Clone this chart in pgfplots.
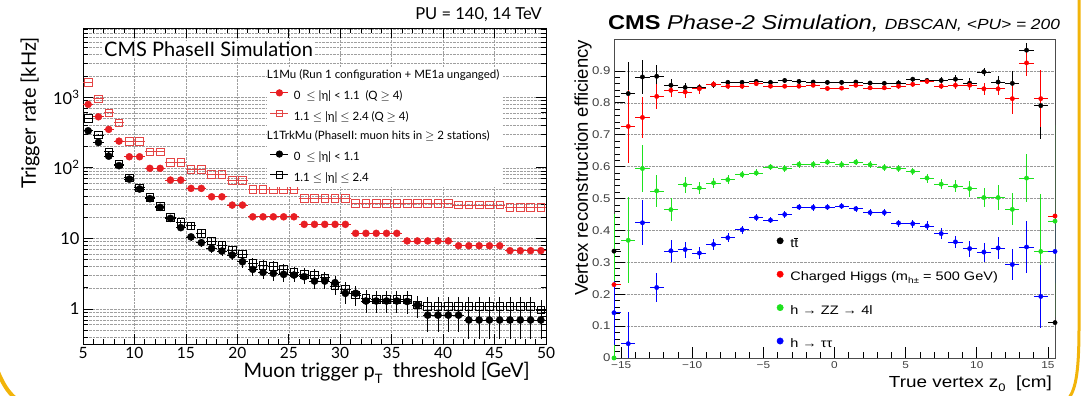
\documentclass[border=0pt]{standalone}
\usepackage{fontspec}
\setmainfont{Lato}
\newfontfamily\arialS[FakeStretch=1.18]{Liberation Sans}
\newfontfamily\arialN{Liberation Sans}
\usepackage{pgfplots}
\pgfplotsset{compat=1.18}
\definecolor{redF}{RGB}{232,30,35}
\definecolor{redO}{RGB}{228,70,70}
\definecolor{grnR}{RGB}{30,225,30}
\definecolor{bluR}{RGB}{0,0,255}
\definecolor{ornB}{RGB}{242,180,10}

\begin{document}
\begin{tikzpicture}
\useasboundingbox (0,0) rectangle (1082bp,396bp);

% ---------------- LEFT PANEL ----------------
\begin{axis}[
  at={(83bp,52bp)}, anchor=south west, scale only axis,
  width=463bp, height=316bp,
  xmin=5, xmax=50, ymode=log, ymin=0.32, ymax=9500,
  xtick={5,10,...,50}, xticklabels={5,10,15,20,25,30,35,40,45,50},
  minor x tick num=4,
  ytick={1,10,100,1000}, yticklabels={1,10,10\textsuperscript{2},10\textsuperscript{3}},
  minor ytick={0.4,0.5,0.6,0.7,0.8,0.9,2,3,4,5,6,7,8,9,20,30,40,50,60,70,80,90,200,300,400,500,600,700,800,900,2000,3000,4000,5000,6000,7000,8000,9000},
  xmajorgrids, ymajorgrids, yminorgrids,
  grid style={densely dotted, gray!75, line width=0.45bp},
  major tick length=10bp, minor tick length=5bp,
  tick style={black, line width=0.6bp},
  axis line style={black, line width=0.9bp},
  xticklabel style={font=\fontsize{15.5bp}{17bp}\selectfont},
  yticklabel style={font=\fontsize{16.5bp}{18bp}\selectfont},
  legend cell align=left,
  legend image code/.code={\draw[mark repeat=2,mark phase=2,#1] plot coordinates {(0bp,3.5bp)(9bp,3.5bp)(18bp,3.5bp)};},
  legend style={at={(axis description cs:0.397,0.877)}, anchor=north west, draw=none, fill=white,
    inner xsep=3bp, inner ysep=3bp, font=\fontsize{11.5bp}{13bp}\selectfont,
    nodes={inner sep=0pt, text height=8.5bp, text depth=2.5bp}, row sep=8.6bp,
    /tikz/every odd column/.append style={column sep=5bp}},
]
\addlegendimage{empty legend}\addlegendentry{\hspace{-27bp}L1Mu (Run 1 configuration + ME1a unganged)}
\addlegendimage{redF, mark=*, mark size=3.2bp, line width=0.8bp}\addlegendentry{0\ \ $\leq$ |η| < 1.1\ \ (Q $\geq$ 4)}
\addlegendimage{redO, mark=square, mark size=3.2bp, line width=0.8bp, mark options={fill=white}}\addlegendentry{1.1 $\leq$ |η| $\leq$ 2.4 (Q $\geq$ 4)}
\addlegendimage{empty legend}\addlegendentry{\hspace{-27bp}L1TrkMu (PhaseII: muon hits in $\geq$ 2 stations)}
\addlegendimage{black, mark=*, mark size=3.2bp, line width=0.8bp}\addlegendentry{0\ \ $\leq$ |η| < 1.1}
\addlegendimage{black, mark=square, mark size=3.2bp, line width=0.8bp, mark options={fill=white}}\addlegendentry{1.1 $\leq$ |η| $\leq$ 2.4}

% red open: L1Mu 1.1-2.4
\addplot[forget plot, only marks, mark=square, mark size=3.8bp, color=redO, mark options={fill=white, line width=0.8bp},
  error bars/x dir=both, error bars/x fixed=0.5, error bars/error mark=none,
  error bars/error bar style={line width=0.8bp}] table[x index=0, y index=1] {
5.5 1600
6.5 946
7.5 600
8.5 433
9.5 238
10.5 238
11.5 168
12.5 168
13.5 119
14.5 119
15.5 95
16.5 95
17.5 80.5
18.5 80.5
19.5 66
20.5 66
21.5 49
22.5 49
23.5 49
24.5 49
25.5 49
26.5 36.8
27.5 36.8
28.5 36.8
29.5 36.8
30.5 36.8
31.5 31.3
32.5 31.3
33.5 31.3
34.5 31.3
35.5 31.3
36.5 31.3
37.5 31.3
38.5 31.3
39.5 31.3
40.5 31.3
41.5 29.6
42.5 29.6
43.5 29.6
44.5 29.6
45.5 29.6
46.5 27.5
47.5 27.5
48.5 27.5
49.5 27.5
};
% red filled: L1Mu 0-1.1
\addplot[forget plot, only marks, mark=*, mark size=3.5bp, color=redF,
  error bars/x dir=both, error bars/x fixed=0.5, error bars/error mark=none,
  error bars/error bar style={line width=0.8bp}] table[x index=0, y index=1] {
5.5 788
6.5 526
7.5 349
8.5 238
9.5 143
10.5 143
11.5 98
12.5 98
13.5 66.9
14.5 66.9
15.5 51
16.5 51
17.5 38.8
18.5 38.8
19.5 29.6
20.5 29.6
21.5 20.2
22.5 20.2
23.5 20.2
24.5 20.2
25.5 20.2
26.5 15.8
27.5 15.8
28.5 15.8
29.5 15.8
30.5 15.8
31.5 11.8
32.5 11.8
33.5 11.8
34.5 11.8
35.5 11.8
36.5 9.2
37.5 9.2
38.5 9.2
39.5 9.2
40.5 9.2
41.5 7.87
42.5 7.87
43.5 7.87
44.5 7.87
45.5 7.87
46.5 6.7
47.5 6.7
48.5 6.7
49.5 6.7
};
% black open: L1TrkMu 1.1-2.4
\addplot[forget plot, only marks, mark=square, mark size=3.8bp, color=black, mark options={fill=white, line width=0.8bp},
  error bars/x dir=both, error bars/x fixed=0.5, error bars/y dir=both, error bars/y explicit,
  error bars/error mark=none, error bars/error bar style={line width=0.7bp}]
  table[x index=0, y index=1, y error index=2] {
5.5 499 8.4
6.5 290 6.4
7.5 168 4.8
8.5 113 4.0
9.5 72 3.2
10.5 52 2.7
11.5 38 2.3
12.5 28.5 2.0
13.5 19.8 1.7
14.5 16.8 1.5
15.5 15.1 1.45
16.5 11.8 1.3
17.5 9.2 1.13
18.5 8.05 1.06
19.5 6.84 0.98
20.5 6.0 0.92
21.5 4.43 0.79
22.5 4.15 0.76
23.5 4.0 0.75
24.5 3.65 0.71
25.5 3.27 0.68
26.5 3.10 0.66
27.5 3.03 0.65
28.5 2.77 0.62
29.5 2.12 0.54
30.5 1.90 0.52
31.5 1.58 0.47
32.5 1.42 0.45
33.5 1.37 0.44
34.5 1.37 0.44
35.5 1.37 0.44
36.5 1.37 0.44
37.5 1.14 0.40
38.5 1.08 0.39
39.5 1.08 0.39
40.5 1.08 0.39
41.5 1.08 0.39
42.5 1.08 0.39
43.5 1.08 0.39
44.5 1.08 0.39
45.5 1.08 0.39
46.5 1.08 0.39
47.5 1.08 0.39
48.5 1.08 0.39
49.5 0.97 0.37
};
% black filled: L1TrkMu 0-1.1
\addplot[forget plot, only marks, mark=*, mark size=3.6bp, color=black,
  error bars/x dir=both, error bars/x fixed=0.5, error bars/y dir=both, error bars/y explicit,
  error bars/error mark=none, error bars/error bar style={line width=0.7bp}]
  table[x index=0, y index=1, y error index=2] {
5.5 333 6.8
6.5 228 5.6
7.5 146 4.5
8.5 107 3.9
9.5 69 3.1
10.5 50 2.6
11.5 36.5 2.3
12.5 27.5 2.0
13.5 19.2 1.6
14.5 14.2 1.4
15.5 10.5 1.2
16.5 8.67 1.1
17.5 7.22 1.0
18.5 6.62 0.96
19.5 5.81 0.9
20.5 4.67 0.81
21.5 3.65 0.71
22.5 3.3 0.68
23.5 3.2 0.67
24.5 3.1 0.66
25.5 3.03 0.65
26.5 2.87 0.63
27.5 2.49 0.59
28.5 2.49 0.59
29.5 2.36 0.57
30.5 1.67 0.48
31.5 1.67 0.48
32.5 1.30 0.43
33.5 1.30 0.43
34.5 1.30 0.43
35.5 1.30 0.43
36.5 1.28 0.42
37.5 1.14 0.40
38.5 0.82 0.34
39.5 0.82 0.34
40.5 0.82 0.34
41.5 0.82 0.34
42.5 0.70 0.32
43.5 0.70 0.32
44.5 0.70 0.32
45.5 0.70 0.32
46.5 0.70 0.32
47.5 0.70 0.32
48.5 0.70 0.32
49.5 0.70 0.32
};
\end{axis}

% ---------------- RIGHT PANEL ----------------
\begin{axis}[
  at={(614bp,38bp)}, anchor=south west, scale only axis,
  width=441bp, height=319bp,
  xmin=-15.5, xmax=15.5, ymin=0, ymax=1.0,
  xtick={-15,-10,-5,0,5,10,15}, xticklabels={−15,−10,−5,0,5,10,15},
  minor x tick num=4,
  ytick={0,0.1,0.2,0.3,0.4,0.5,0.6,0.7,0.8,0.9}, yticklabels={0,0.1,0.2,0.3,0.4,0.5,0.6,0.7,0.8,0.9},
  minor y tick num=4,
  tick pos=left,
  ymajorgrids, grid style={densely dotted, gray!80, line width=0.5bp},
  major tick length=11bp, minor tick length=5.5bp,
  tick style={black, line width=0.6bp},
  axis line style={gray!60!black, line width=0.8bp},
  xticklabel style={font=\arialS\fontsize{10bp}{12bp}\selectfont, text=black!75},
  yticklabel style={font=\arialS\fontsize{11.2bp}{13bp}\selectfont, text=black!75},
  legend image code/.code={\draw[#1, mark size=3.2bp] plot coordinates {(0bp,3.5bp)};},
  legend style={at={(axis description cs:0.369,0.378)}, anchor=north west, draw=none, fill=none,
    inner sep=0pt, font=\arialS\fontsize{12.3bp}{14bp}\selectfont,
    nodes={inner sep=0pt, text height=9bp, text depth=3bp}, row sep=20.7bp,
    /tikz/every odd column/.append style={column sep=7bp}},
  legend cell align=left,
]
\addplot[only marks, mark=*, mark size=2.2bp, color=black,
  error bars/x dir=both, error bars/x fixed=0.5, error bars/y dir=both, error bars/y explicit,
  error bars/error mark=none, error bars/error bar style={line width=0.6bp}]
  table[x index=0, y index=1, y error index=2] {
-15.5 0.335 0
-14.5 0.829 0.1
-13.5 0.881 0.053
-12.5 0.883 0.034
-11.5 0.855 0.02
-10.5 0.848 0.015
-9.5 0.848 0.012
-8.5 0.857 0.01
-7.5 0.864 0.008
-6.5 0.864 0.008
-5.5 0.867 0.007
-4.5 0.864 0.007
-3.5 0.870 0.007
-2.5 0.867 0.007
-1.5 0.865 0.007
-0.5 0.864 0.007
0.5 0.864 0.007
1.5 0.865 0.007
2.5 0.862 0.007
3.5 0.861 0.007
4.5 0.862 0.008
5.5 0.874 0.008
6.5 0.870 0.008
7.5 0.870 0.01
8.5 0.874 0.012
9.5 0.862 0.015
10.5 0.897 0.012
11.5 0.865 0.018
12.5 0.861 0.04
13.5 0.965 0.023
14.5 0.791 0.105
15.5 0.111 0
};
\addlegendentry{t$\overline{\mbox{t}}$}
\addplot[only marks, mark=*, mark size=2.2bp, color=red,
  error bars/x dir=both, error bars/x fixed=0.5, error bars/y dir=both, error bars/y explicit,
  error bars/error mark=none, error bars/error bar style={line width=0.6bp}]
  table[x index=0, y index=1, y error index=2] {
-15.5 0.230 0
-14.5 0.726 0.115
-13.5 0.754 0.063
-12.5 0.820 0.04
-11.5 0.839 0.02
-10.5 0.834 0.018
-9.5 0.844 0.015
-8.5 0.858 0.01
-7.5 0.852 0.008
-6.5 0.852 0.008
-5.5 0.860 0.007
-4.5 0.852 0.007
-3.5 0.852 0.007
-2.5 0.852 0.007
-1.5 0.855 0.007
-0.5 0.845 0.007
0.5 0.846 0.007
1.5 0.855 0.007
2.5 0.847 0.007
3.5 0.847 0.007
4.5 0.852 0.008
5.5 0.858 0.008
6.5 0.867 0.008
7.5 0.852 0.01
8.5 0.855 0.012
9.5 0.855 0.015
10.5 0.844 0.018
11.5 0.844 0.02
12.5 0.813 0.047
13.5 0.925 0.04
14.5 0.813 0.09
15.5 0.445 0
};
\addlegendentry{Charged Higgs (m\raisebox{-0.45ex}{\fontsize{8.5bp}{9bp}\selectfont h±} = 500 GeV)}
\addplot[only marks, mark=*, mark size=2.2bp, color=grnR,
  error bars/x dir=both, error bars/x fixed=0.5, error bars/y dir=both, error bars/y explicit,
  error bars/error mark=none, error bars/error bar style={line width=0.6bp}]
  table[x index=0, y index=1, y error index=2] {
-15.5 0.0 0.45
-14.5 0.369 0.135
-13.5 0.594 0.075
-12.5 0.524 0.05
-11.5 0.465 0.035
-10.5 0.543 0.025
-9.5 0.533 0.02
-8.5 0.549 0.016
-7.5 0.559 0.014
-6.5 0.575 0.012
-5.5 0.580 0.011
-4.5 0.599 0.01
-3.5 0.594 0.01
-2.5 0.607 0.01
-1.5 0.607 0.01
-0.5 0.614 0.01
0.5 0.606 0.01
1.5 0.614 0.01
2.5 0.606 0.01
3.5 0.597 0.01
4.5 0.594 0.011
5.5 0.585 0.012
6.5 0.564 0.014
7.5 0.545 0.016
8.5 0.539 0.02
9.5 0.531 0.025
10.5 0.503 0.03
11.5 0.503 0.04
12.5 0.466 0.05
13.5 0.564 0.075
14.5 0.334 0.18
15.5 0.429 0.3
};
\addlegendentry{h → ZZ → 4l}
\addplot[only marks, mark=*, mark size=2.2bp, color=bluR,
  error bars/x dir=both, error bars/x fixed=0.5, error bars/y dir=both, error bars/y explicit,
  error bars/error mark=none, error bars/error bar style={line width=0.6bp}]
  table[x index=0, y index=1, y error index=2] {
-15.5 0.142 0.1
-14.5 0.045 0.1
-13.5 0.424 0.07
-12.5 0.221 0.045
-11.5 0.336 0.035
-10.5 0.340 0.025
-9.5 0.329 0.02
-8.5 0.356 0.016
-7.5 0.377 0.014
-6.5 0.402 0.012
-5.5 0.440 0.011
-4.5 0.432 0.01
-3.5 0.450 0.01
-2.5 0.473 0.01
-1.5 0.472 0.01
-0.5 0.473 0.01
0.5 0.476 0.01
1.5 0.468 0.01
2.5 0.456 0.01
3.5 0.456 0.01
4.5 0.423 0.011
5.5 0.421 0.012
6.5 0.414 0.014
7.5 0.390 0.016
8.5 0.364 0.02
9.5 0.343 0.025
10.5 0.332 0.03
11.5 0.345 0.035
12.5 0.293 0.05
13.5 0.348 0.08
14.5 0.193 0.1
15.5 0.334 0.1
};
\addlegendentry{h → ττ}
\end{axis}

% ---------------- TEXT ----------------
\node[anchor=base west, fill=white, inner sep=1bp, font=\fontsize{20bp}{24bp}\selectfont] at (103bp,339bp) {CMS PhaseII Simulation};
\node[anchor=base east, inner sep=0pt, font=\fontsize{16.5bp}{20bp}\selectfont] at (542bp,376bp) {PU = 140, 14 TeV};
\node[anchor=base east, inner sep=0pt, font=\fontsize{20bp}{24bp}\selectfont] at (530bp,19bp) {Muon trigger p\raisebox{-0.6ex}{\fontsize{13bp}{14bp}\selectfont T}\ \ threshold [GeV]};
\node[rotate=90, anchor=east, inner sep=0pt, font=\fontsize{20bp}{24bp}\selectfont] at (30bp,359bp) {Trigger rate [kHz]};

\node[anchor=base west, inner sep=0pt] at (608bp,366bp) {\arialS\fontsize{20bp}{24bp}\selectfont\bfseries CMS \mdseries\itshape Phase-2 Simulation, \fontsize{14.7bp}{17bp}\selectfont DBSCAN, <PU> = 200};
\node[anchor=base east, inner sep=0pt] at (1052bp,9bp) {\arialS\fontsize{16bp}{19bp}\selectfont True vertex z\raisebox{-0.5ex}{\fontsize{11bp}{12bp}\selectfont 0}\ \ [cm]};
\node[rotate=90, anchor=east, inner sep=0pt] at (583bp,356bp) {\arialN\fontsize{18.5bp}{22bp}\selectfont Vertex reconstruction efficiency};

% ---------------- slide border decoration ----------------
\draw[ornB, line width=3bp] (1079bp,400bp) -- (1079bp,70bp) .. controls (1079bp,25bp) and (1076bp,8bp) .. (1069bp,-2bp);
\draw[ornB, line width=4bp] (-2bp,24bp) .. controls (3bp,12bp) and (8bp,4bp) .. (15bp,-2bp);
\end{tikzpicture}
\end{document}
